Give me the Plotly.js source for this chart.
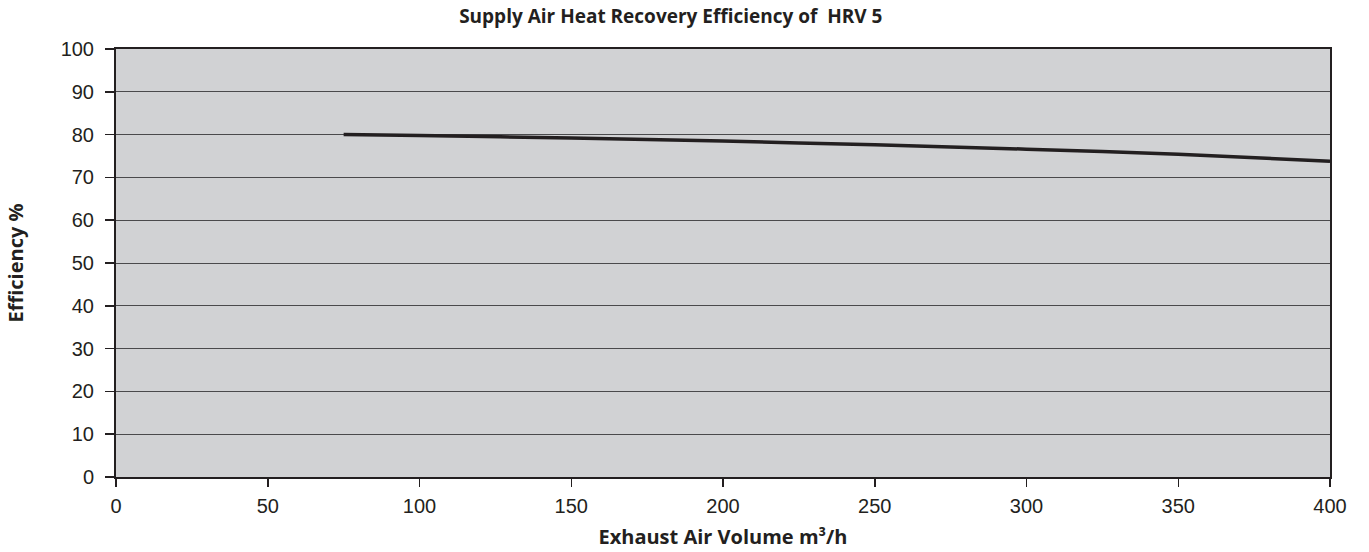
<!DOCTYPE html>
<html>
<head>
<meta charset="utf-8">
<script src="https://cdn.plot.ly/plotly-3.0.1.min.js"></script>
<style>html,body{margin:0;padding:0;background:#fff;}#chart{width:1369px;height:552px;}</style>
</head>
<body>
<div id="chart"></div>
<script>
const airVolume = [75, 100, 150, 200, 250, 300, 350, 400];
const efficiency = [80.0, 79.8, 79.2, 78.5, 77.6, 76.6, 75.4, 73.8];
const xTicks = [0, 50, 100, 150, 200, 250, 300, 350, 400];
const yTicks = [0, 10, 20, 30, 40, 50, 60, 70, 80, 90, 100];

const trace = {
  x: airVolume,
  y: efficiency,
  type: 'scatter',
  mode: 'lines',
  line: {color: '#231f20', width: 3.5, shape: 'spline', smoothing: 0.8},
  hoverinfo: 'x+y'
};

const tickFont = {family: 'Liberation Sans, Arial, sans-serif', size: 20, color: '#231f20'};
const boldFont = {family: 'Open Sans, sans-serif', size: 20, color: '#231f20'};

const layout = {
  width: 1369, height: 552,
  margin: {l: 116, r: 39, t: 49, b: 75},
  paper_bgcolor: '#ffffff',
  plot_bgcolor: '#d1d2d4',
  showlegend: false,
  title: {
    text: '<b>Supply Air Heat Recovery Efficiency of  HRV 5</b>',
    font: {family: 'Open Sans, sans-serif', size: 19, color: '#231f20'},
    x: 0.49, xanchor: 'center', xref: 'container',
    y: 0.97, yanchor: 'middle', yref: 'container'
  },
  xaxis: {
    range: [0, 400],
    tickvals: xTicks,
    ticktext: xTicks.map(String),
    tickfont: tickFont,
    ticks: 'outside', ticklen: 8, tickwidth: 1.5, tickcolor: '#231f20',
    ticklabelstandoff: 2,
    showgrid: false, zeroline: false,
    showline: true, linecolor: '#231f20', linewidth: 2, mirror: true,
    title: {text: '<b>Exhaust Air Volume m³/h</b>', font: boldFont, standoff: 14}
  },
  yaxis: {
    range: [0, 100],
    tickvals: yTicks,
    ticktext: yTicks.map(String),
    tickfont: tickFont,
    ticks: 'outside', ticklen: 9, tickwidth: 1.5, tickcolor: '#231f20',
    ticklabelstandoff: 7,
    showgrid: true, gridcolor: '#4a4a4c', gridwidth: 1,
    zeroline: false,
    showline: true, linecolor: '#231f20', linewidth: 2, mirror: true,
    title: {text: '<b>Efficiency %</b>', font: boldFont, standoff: 32}
  }
};

Plotly.newPlot('chart', [trace], layout, {displayModeBar: false, staticPlot: true});
</script>
</body>
</html>
